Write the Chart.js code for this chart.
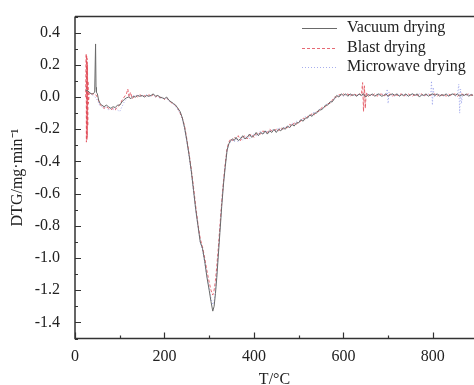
<!DOCTYPE html>
<html>
<head>
<meta charset="utf-8">
<script src="https://cdn.jsdelivr.net/npm/chart.js@4/dist/chart.umd.min.js"></script>
<style>
  body { margin: 0; background: #fff; }
</style>
</head>
<body>
<canvas id="dtgChart" width="474" height="385"></canvas>
<script>
// [T (°C), DTG (mg/min)]
let vacuumData = [
    [24, 0.04], [28, 0.04], [32, 0.03], [36, 0.02], [40, 0.02], [44, 0.03], [46, 0.33], [47, 0.06], [48, 0.03],
    [50, 0.02], [53, -0.02], [56, -0.04], [60, -0.05], [65, -0.06], [70, -0.05], [75, -0.06], [80, -0.07],
    [85, -0.06], [90, -0.065], [95, -0.05], [100, -0.05], [105, -0.03], [110, -0.015], [115, -0.005], [120, 0.0],
    [125, -0.01], [130, 0.005], [135, 0.0], [140, 0.01], [145, 0.005], [150, 0.01], [155, 0.0], [160, 0.01],
    [165, 0.005], [170, 0.01], [175, 0.02], [180, 0.005], [185, 0.01], [190, 0.0], [195, -0.005], [200, -0.01],
    [205, 0.0], [210, -0.02], [215, -0.03], [220, -0.04], [225, -0.05], [230, -0.07], [235, -0.09], [240, -0.13],
    [245, -0.19], [250, -0.27], [255, -0.36], [260, -0.46], [265, -0.58], [270, -0.7], [275, -0.8], [280, -0.9],
    [285, -0.94], [290, -1.02], [295, -1.12], [300, -1.2], [304, -1.27], [308, -1.33], [311, -1.3], [314, -1.22],
    [317, -1.12], [320, -1.0], [324, -0.84], [328, -0.68], [332, -0.54], [336, -0.43], [340, -0.33], [344, -0.29],
    [348, -0.27], [352, -0.26], [356, -0.27], [360, -0.25], [365, -0.27], [370, -0.26], [375, -0.24], [380, -0.26],
    [385, -0.25], [390, -0.23], [395, -0.25], [400, -0.24], [405, -0.22], [410, -0.24], [415, -0.22], [420, -0.23],
    [425, -0.21], [430, -0.23], [435, -0.21], [440, -0.22], [445, -0.2], [450, -0.22], [455, -0.2], [460, -0.21],
    [465, -0.19], [470, -0.2], [475, -0.18], [480, -0.19], [485, -0.17], [490, -0.18], [495, -0.16], [500, -0.16],
    [505, -0.14], [510, -0.15], [515, -0.13], [520, -0.13], [525, -0.11], [530, -0.12], [535, -0.1], [540, -0.1],
    [545, -0.08], [550, -0.08], [555, -0.07], [560, -0.05], [565, -0.05], [570, -0.03], [575, -0.03], [580, -0.01],
    [585, 0.01], [590, 0.0], [595, 0.02], [600, 0.01], [605, 0.02], [610, 0.005], [615, 0.02], [620, 0.01],
    [625, 0.015], [630, 0.005], [635, 0.02], [640, 0.01], [645, 0.02], [650, 0.0], [655, 0.015], [660, 0.01],
    [665, 0.02], [670, 0.005], [675, 0.015], [680, 0.02], [685, 0.005], [690, 0.01], [695, 0.02], [700, 0.005],
    [705, 0.015], [710, 0.02], [715, 0.01], [720, 0.02], [725, 0.005], [730, 0.015], [735, 0.01], [740, 0.02],
    [745, 0.005], [750, 0.015], [755, 0.02], [760, 0.01], [765, 0.02], [770, 0.0], [775, 0.015], [780, 0.01],
    [785, 0.02], [790, 0.005], [795, 0.015], [800, 0.02], [805, 0.01], [810, 0.02], [815, 0.005], [820, 0.015],
    [825, 0.01], [830, 0.02], [835, 0.005], [840, 0.015], [845, 0.02], [850, 0.01], [855, 0.02], [860, 0.005],
    [865, 0.015], [870, 0.01], [875, 0.02], [880, 0.005], [885, 0.015], [890, 0.01]
];

let blastData = [
    [24, 0.0], [25, 0.27], [25.5, -0.28], [26, 0.26], [26.5, -0.27], [27, 0.24], [27.5, -0.25], [28, 0.2],
    [28.5, -0.18], [29, 0.1], [30, -0.04], [32, 0.03], [36, 0.02], [40, 0.02], [45, 0.02], [50, 0.0],
    [55, -0.04], [60, -0.06], [65, -0.07], [70, -0.06], [75, -0.07], [80, -0.08], [85, -0.07], [90, -0.08],
    [95, -0.06], [100, -0.05], [105, -0.02], [110, 0.0], [115, 0.02], [118, 0.05], [121, 0.0], [124, 0.03],
    [128, -0.01], [135, 0.01], [140, 0.0], [145, 0.015], [150, 0.005], [155, 0.01], [160, 0.0], [165, 0.015],
    [170, 0.005], [175, 0.015], [180, 0.0], [185, 0.01], [190, -0.005], [195, 0.0], [200, -0.015], [205, -0.005],
    [210, -0.02], [215, -0.035], [220, -0.04], [225, -0.055], [230, -0.07], [235, -0.1], [240, -0.13],
    [245, -0.18], [250, -0.26], [255, -0.35], [260, -0.45], [265, -0.56], [270, -0.68], [275, -0.79], [280, -0.88],
    [285, -0.93], [290, -1.0], [295, -1.08], [300, -1.15], [304, -1.2], [308, -1.23], [311, -1.2], [314, -1.14],
    [317, -1.05], [320, -0.95], [324, -0.8], [328, -0.65], [332, -0.52], [336, -0.41], [340, -0.32], [344, -0.28],
    [348, -0.26], [352, -0.27], [356, -0.25], [360, -0.26], [365, -0.24], [370, -0.27], [375, -0.25], [380, -0.24],
    [385, -0.26], [390, -0.24], [395, -0.23], [400, -0.25], [405, -0.23], [410, -0.22], [415, -0.23], [420, -0.21],
    [425, -0.22], [430, -0.22], [435, -0.2], [440, -0.21], [445, -0.21], [450, -0.2], [455, -0.21], [460, -0.19],
    [465, -0.2], [470, -0.19], [475, -0.19], [480, -0.17], [485, -0.18], [490, -0.16], [495, -0.17], [500, -0.15],
    [505, -0.15], [510, -0.13], [515, -0.14], [520, -0.12], [525, -0.12], [530, -0.1], [535, -0.11], [540, -0.09],
    [545, -0.09], [550, -0.07], [555, -0.06], [560, -0.06], [565, -0.04], [570, -0.04], [575, -0.02], [580, 0.0],
    [585, 0.0], [590, 0.015], [595, 0.01], [600, 0.02], [605, 0.01], [610, 0.02], [615, 0.005], [620, 0.015],
    [625, 0.02], [630, 0.01], [635, 0.02], [640, 0.01], [643, 0.09], [645, -0.09], [647, 0.07], [649, -0.07],
    [651, 0.03], [655, 0.0], [660, 0.015], [665, 0.01], [670, 0.02], [675, 0.005], [680, 0.015], [685, 0.02],
    [690, 0.005], [695, 0.015], [700, 0.01], [705, 0.02], [710, 0.005], [715, 0.02], [720, 0.01], [725, 0.015],
    [730, 0.02], [735, 0.005], [740, 0.015], [745, 0.02], [750, 0.01], [755, 0.005], [760, 0.02], [765, 0.01],
    [770, 0.015], [775, 0.02], [780, 0.005], [785, 0.015], [790, 0.02], [795, 0.01], [800, 0.015], [805, 0.02],
    [810, 0.005], [815, 0.02], [820, 0.01], [825, 0.015], [830, 0.005], [835, 0.02], [840, 0.01], [845, 0.015],
    [850, 0.02], [855, 0.005], [860, 0.015], [865, 0.02], [870, 0.01], [875, 0.015], [880, 0.02], [885, 0.01],
    [890, 0.015]
];

let microwaveData = [
    [24, 0.05], [28, 0.04], [32, 0.03], [36, 0.02], [40, 0.01], [45, 0.0], [50, -0.02], [55, -0.05],
    [60, -0.06], [65, -0.07], [70, -0.06], [75, -0.08], [80, -0.07], [85, -0.08], [90, -0.07], [95, -0.08],
    [100, -0.09], [105, -0.06], [110, -0.03], [115, -0.01], [120, 0.01], [125, 0.0], [130, 0.01], [135, 0.005],
    [140, 0.015], [145, 0.0], [150, 0.01], [155, 0.005], [160, 0.015], [165, 0.0], [170, 0.01], [175, 0.015],
    [180, 0.0], [185, 0.01], [190, -0.01], [195, 0.0], [200, -0.01], [205, -0.01], [210, -0.025], [215, -0.03],
    [220, -0.045], [225, -0.06], [230, -0.08], [235, -0.1], [240, -0.14], [245, -0.2], [250, -0.28], [255, -0.37],
    [260, -0.47], [265, -0.59], [270, -0.71], [275, -0.81], [280, -0.9], [285, -0.95], [290, -1.03], [295, -1.12],
    [300, -1.19], [304, -1.25], [308, -1.29], [311, -1.27], [314, -1.2], [317, -1.1], [320, -0.98], [324, -0.82],
    [328, -0.66], [332, -0.53], [336, -0.42], [340, -0.33], [344, -0.29], [348, -0.28], [352, -0.26], [356, -0.28],
    [360, -0.26], [365, -0.28], [370, -0.25], [375, -0.27], [380, -0.25], [385, -0.24], [390, -0.26], [395, -0.24],
    [400, -0.23], [405, -0.24], [410, -0.23], [415, -0.21], [420, -0.23], [425, -0.22], [430, -0.21], [435, -0.22],
    [440, -0.2], [445, -0.21], [450, -0.21], [455, -0.19], [460, -0.2], [465, -0.2], [470, -0.18], [475, -0.19],
    [480, -0.18], [485, -0.16], [490, -0.17], [495, -0.15], [500, -0.16], [505, -0.14], [510, -0.14], [515, -0.12],
    [520, -0.13], [525, -0.11], [530, -0.11], [535, -0.09], [540, -0.1], [545, -0.08], [550, -0.07], [555, -0.07],
    [560, -0.05], [565, -0.04], [570, -0.04], [575, -0.02], [580, -0.01], [585, 0.0], [590, 0.01], [595, 0.015],
    [600, 0.005], [605, 0.015], [610, 0.02], [615, 0.01], [620, 0.02], [625, 0.005], [630, 0.015], [635, 0.01],
    [640, 0.02], [645, 0.005], [650, 0.015], [655, 0.02], [660, 0.01], [665, 0.015], [670, 0.005], [675, 0.02],
    [680, 0.01], [685, 0.015], [690, 0.02], [695, 0.01], [698, 0.05], [700, -0.04], [702, 0.03], [705, 0.01],
    [710, 0.015], [715, 0.005], [720, 0.02], [725, 0.01], [730, 0.015], [735, 0.02], [740, 0.005], [745, 0.015],
    [750, 0.01], [755, 0.02], [760, 0.005], [765, 0.015], [770, 0.02], [775, 0.01], [780, 0.015], [785, 0.005],
    [790, 0.02], [795, 0.01], [797, 0.1], [799, -0.05], [801, 0.06], [803, 0.0], [805, 0.015], [810, 0.02],
    [815, 0.01], [820, 0.015], [825, 0.005], [830, 0.02], [835, 0.01], [840, 0.015], [845, 0.02], [850, 0.005],
    [855, 0.015], [858, 0.08], [860, -0.1], [862, 0.05], [864, -0.04], [866, 0.01], [870, 0.02], [875, 0.01],
    [880, 0.015], [885, 0.02], [890, 0.01]
];

let seriesNames = ["Vacuum drying", "Blast drying", "Microwave drying"];
let xTicks = [0, 100, 200, 300, 400, 500, 600, 700, 800];
let yTicks = [-1.5, -1.4, -1.3, -1.2, -1.1, -1.0, -0.9, -0.8, -0.7, -0.6, -0.5, -0.4, -0.3, -0.2, -0.1, 0.0, 0.1, 0.2, 0.3, 0.4, 0.5];

let serif = "'Liberation Serif', 'Times New Roman', serif";

function toPoints(pairs) {
    return pairs.map(p => ({ x: p[0], y: p[1] }));
}

function isMajorY(v) {
    return Math.abs(Math.round(v * 10)) % 2 === 0;
}

// axis frame, inward tick marks and the legend
let framePlugin = {
    id: 'frame',
    afterDraw(chart) {
        let ctx = chart.ctx;
        let area = chart.chartArea;
        let xs = chart.scales.x;
        let ys = chart.scales.y;
        ctx.save();
        ctx.strokeStyle = '#333';
        ctx.lineWidth = 1.5;
        ctx.beginPath();
        ctx.moveTo(area.left, area.top);
        ctx.lineTo(area.left, area.bottom);
        ctx.lineTo(area.right, area.bottom);
        ctx.moveTo(area.left, area.top);
        ctx.lineTo(area.right, area.top);
        ctx.stroke();

        ctx.lineWidth = 1.2;
        ctx.beginPath();
        xTicks.forEach(v => {
            let px = Math.round(xs.getPixelForValue(v)) + 0.5;
            let len = v % 200 === 0 ? 6 : 3;
            ctx.moveTo(px, area.bottom);
            ctx.lineTo(px, area.bottom - len);
        });
        yTicks.forEach(v => {
            let py = Math.round(ys.getPixelForValue(v)) + 0.5;
            let len = isMajorY(v) ? 6 : 3;
            ctx.moveTo(area.left, py);
            ctx.lineTo(area.left + len, py);
        });
        ctx.stroke();

        // legend
        let rows = [28, 48, 67];
        ctx.font = "16px " + serif;
        ctx.textBaseline = 'middle';
        ctx.fillStyle = '#222';
        chart.data.datasets.forEach((ds, i) => {
            ctx.strokeStyle = ds.borderColor;
            ctx.lineWidth = 1;
            ctx.setLineDash(ds.borderDash || []);
            ctx.beginPath();
            ctx.moveTo(302, rows[i] + 0.5);
            ctx.lineTo(337, rows[i] + 0.5);
            ctx.stroke();
            ctx.setLineDash([]);
            ctx.fillText(ds.label, 347, rows[i]);
        });
        ctx.restore();
    }
};

let canvas = document.getElementById("dtgChart");
let ctx = canvas.getContext("2d");

let chart = new Chart(ctx, {
    type: 'line',
    data: {
        datasets: [{
            label: seriesNames[0],
            data: toPoints(vacuumData),
            borderColor: '#6a6a6a',
            borderWidth: 1
        }, {
            label: seriesNames[1],
            data: toPoints(blastData),
            borderColor: 'rgba(226, 80, 92, 0.85)',
            borderDash: [3, 2],
            borderWidth: 1
        }, {
            label: seriesNames[2],
            data: toPoints(microwaveData),
            borderColor: 'rgba(130, 140, 230, 0.7)',
            borderDash: [1, 2],
            borderWidth: 1
        }]
    },
    options: {
        responsive: false,
        animation: false,
        layout: { padding: { top: 15, right: 0, bottom: 0, left: 0 } },
        elements: { point: { radius: 0 }, line: { tension: 0 } },
        plugins: { legend: { display: false }, tooltip: { enabled: false } },
        scales: {
            x: {
                type: 'linear',
                min: 0,
                max: 892,
                afterBuildTicks: s => { s.ticks = xTicks.map(v => ({ value: v })); },
                afterFit: s => { s.height = 46.5; },
                grid: { display: false },
                border: { display: false },
                ticks: {
                    padding: 1,
                    autoSkip: false,
                    maxRotation: 0,
                    color: '#222',
                    font: { family: serif, size: 16 },
                    callback: v => (v % 200 === 0 ? String(v) : '')
                },
                title: {
                    display: true,
                    text: 'T/°C',
                    color: '#222',
                    font: { family: serif, size: 16, lineHeight: 0.6 },
                    padding: { top: 0, bottom: 0 }
                }
            },
            y: {
                min: -1.5,
                max: 0.5,
                afterBuildTicks: s => { s.ticks = yTicks.map(v => ({ value: v })); },
                afterFit: s => { s.width = 75; },
                grid: { display: false },
                border: { display: false },
                ticks: {
                    padding: 7,
                    autoSkip: false,
                    color: '#222',
                    font: { family: serif, size: 16 },
                    callback: v => (isMajorY(v) ? v.toFixed(1) : '')
                },
                title: {
                    display: true,
                    text: 'DTG/mg·min⁻¹',
                    color: '#222',
                    font: { family: serif, size: 16, lineHeight: 1 },
                    padding: { top: 10, bottom: 0 }
                }
            }
        }
    },
    plugins: [framePlugin]
});
</script>
</body>
</html>
